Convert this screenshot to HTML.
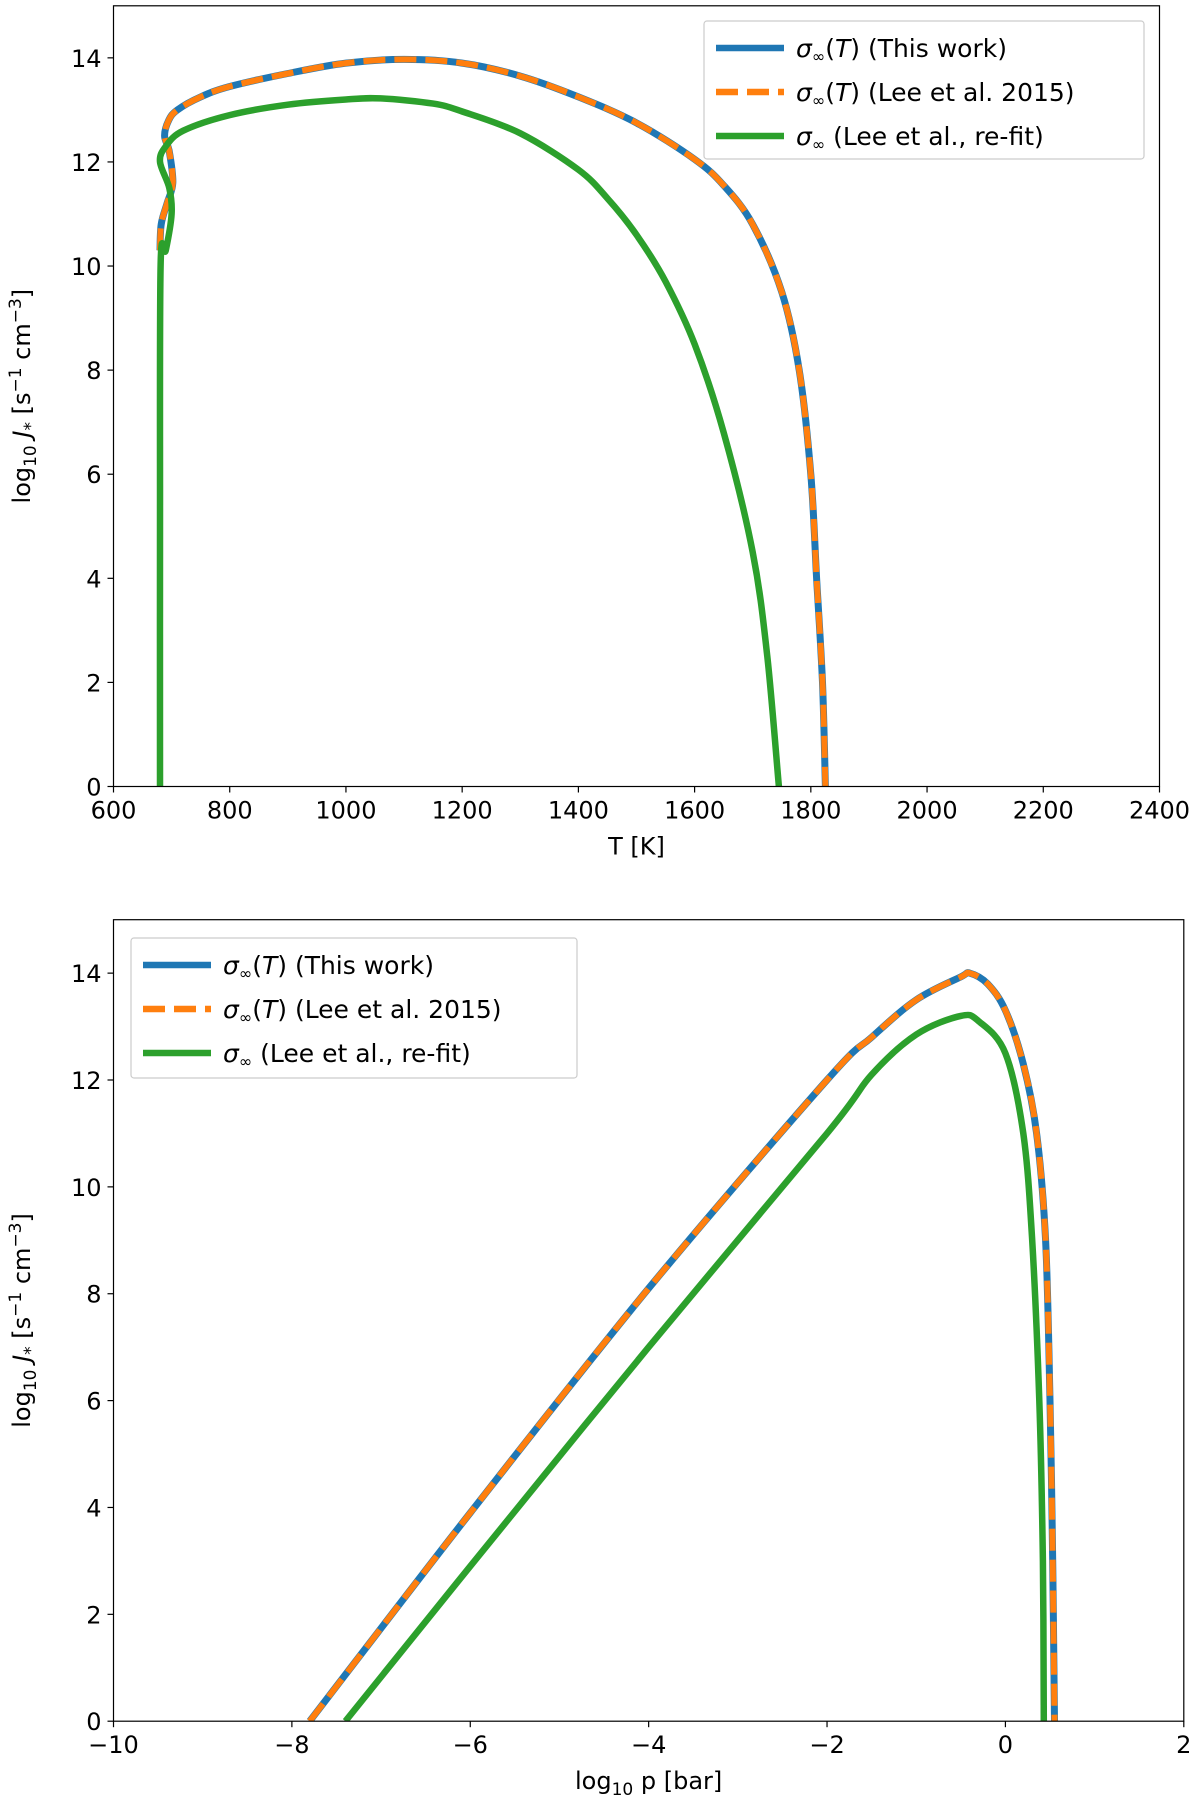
<!DOCTYPE html>
<html><head><meta charset="utf-8"><style>
body{margin:0;background:#fff;}
svg{display:block;font-family:"DejaVu Sans","Liberation Sans",sans-serif;}
</style></head><body>
<svg id="fig" width="1200" height="1816" viewBox="0 0 1200 1816"></svg>
<script>
// ---- data: top panel (T [K] vs log10 J) ----
const topBlueT = [680,682,692,702,696,688,695,710,750,800,900,1000,1100,1200,1300,1400,1500,1600,1650,1700,1750,1780,1800,1810,1820,1825];
const topBlueJ = [10.3,10.8,11.2,11.6,12.2,12.5,12.8,13.0,13.25,13.45,13.7,13.9,13.97,13.9,13.65,13.25,12.75,12.05,11.55,10.8,9.5,8.0,6.0,4.0,2.0,0];
const topGreenT = [680,680,681,690,700,696,680,690,720,800,900,1000,1060,1150,1200,1300,1400,1450,1500,1550,1600,1650,1700,1725,1745];
const topGreenJ = [0,5.0,10.0,10.3,11.0,11.5,12.0,12.3,12.6,12.9,13.1,13.2,13.22,13.12,12.97,12.55,11.85,11.3,10.6,9.7,8.5,6.8,4.5,2.5,0];
// ---- data: bottom panel (log10 p vs log10 J) ----
const botBlueP = [-7.8,-6,-4,-2,-1.5,-1,-0.5,-0.4,-0.2,0,0.2,0.35,0.45,0.5,0.53,0.55];
const botBlueJ = [0,3.9,8.1,12.0,12.8,13.5,13.93,14.0,13.8,13.3,12.3,11.0,9.0,6.0,3.0,0];
const botGreenP = [-7.4,-6,-4,-2,-1.5,-1,-0.5,-0.3,0,0.2,0.3,0.38,0.42,0.43];
const botGreenJ = [0,2.9,7.0,11.0,12.1,12.85,13.2,13.1,12.5,11.0,9.0,6.0,3.0,0];
const topXTicks = [600,800,1000,1200,1400,1600,1800,2000,2200,2400];
const botXTicks = [-10,-8,-6,-4,-2,0,2];
const yTicks = [0,2,4,6,8,10,12,14];
const legendLabels = ["(This work)","(Lee et al. 2015)","(Lee et al., re-fit)"];

const NS="http://www.w3.org/2000/svg";
const svg=document.getElementById('fig');
function mk(tag,attrs,parent){const e=document.createElementNS(NS,tag);for(const k in attrs)e.setAttribute(k,attrs[k]);(parent||svg).appendChild(e);return e;}

function smooth(pts){
  let d='M'+pts[0][0].toFixed(1)+','+pts[0][1].toFixed(1);
  for(let i=0;i<pts.length-1;i++){
    const p0=pts[Math.max(0,i-1)],p1=pts[i],p2=pts[i+1],p3=pts[Math.min(pts.length-1,i+2)];
    const c1=[p1[0]+(p2[0]-p0[0])/6,p1[1]+(p2[1]-p0[1])/6];
    const c2=[p2[0]-(p3[0]-p1[0])/6,p2[1]-(p3[1]-p1[1])/6];
    d+='C'+c1[0].toFixed(1)+','+c1[1].toFixed(1)+' '+c2[0].toFixed(1)+','+c2[1].toFixed(1)+' '+p2[0].toFixed(1)+','+p2[1].toFixed(1);
  }
  return d;
}

function panel(cfg){
  const {L,R,T,B,xmin,xmax,ymin,ymax,xticks,xlabel,name}=cfg;
  const g=mk('g',{});
  
  
  const sx=v=>L+(v-xmin)/(xmax-xmin)*(R-L);
  const sy=v=>B-(v-ymin)/(ymax-ymin)*(B-T);
  const clipId=name+'-clip';
  const cp=mk('clipPath',{id:clipId},g);mk('rect',{x:L,y:T,width:R-L,height:B-T},cp);
  const lines=mk('g',{'clip-path':'url(#'+clipId+')'},g);
  function path(xs,ys,attrs,dn){
    const pts=xs.map((x,i)=>[sx(x),sy(ys[i])]);
    const p=mk('path',Object.assign({d:smooth(pts),fill:'none','stroke-linejoin':'round'},attrs),lines);
    
    
  }
  path(cfg.bx,cfg.by,{stroke:'#1f77b4','stroke-width':7},'series-this-work');
  path(cfg.bx,cfg.by,{stroke:'#ff7f0e','stroke-width':6,'stroke-dasharray':'22,9'},'series-lee-2015');
  path(cfg.gx,cfg.gy,{stroke:'#2ca02c','stroke-width':6.5},'series-lee-refit');
  const fr=mk('rect',{x:L,y:T,width:R-L,height:B-T,fill:'none',stroke:'#000','stroke-width':1.2},g);
  
  
  xticks.forEach(v=>{
    const x=sx(v);mk('line',{x1:x,x2:x,y1:B,y2:B+6,stroke:'#000','stroke-width':1.2},g);
    const t=mk('text',{x:x,y:B+32,'text-anchor':'middle','font-size':24},g);
    t.textContent=(v<0?'\u2212'+(-v):''+v);
    
    
  });
  yTicks.forEach(v=>{
    const y=sy(v);mk('line',{x1:L-6,x2:L,y1:y,y2:y,stroke:'#000','stroke-width':1.2},g);
    const t=mk('text',{x:L-12,y:y+9,'text-anchor':'end','font-size':24},g);
    t.textContent=v;
    
    
  });
  const xl=mk('text',{x:(L+R)/2,y:B+68,'text-anchor':'middle','font-size':24},g);
  xl.innerHTML=xlabel;
  
  
  const cy=(T+B)/2;
  const yl=mk('text',{x:0,y:0,'text-anchor':'middle','font-size':24,transform:'translate(30,'+cy+') rotate(-90)'},g);
  yl.innerHTML='log<tspan font-size="17" dy="6">10</tspan><tspan dy="-6"> </tspan><tspan font-style="italic">J</tspan><tspan font-size="17" dy="6">*</tspan><tspan dy="-6"> [s</tspan><tspan font-size="17" dy="-9">\u22121</tspan><tspan dy="9"> cm</tspan><tspan font-size="17" dy="-9">\u22123</tspan><tspan dy="9">]</tspan>';
  
  
  const lg=mk('g',{},g);
  
  
  const [lx,ly,lw,lh]=cfg.leg;
  mk('rect',{x:lx,y:ly,width:lw,height:lh,fill:'#fff','fill-opacity':0.8,stroke:'#ccc','stroke-width':1.2,rx:3},lg);
  const cols=['#1f77b4','#ff7f0e','#2ca02c'];
  for(let i=0;i<3;i++){
    const y=ly+27+i*44;
    const e=mk('g',{},lg);
    
    
    mk('line',{x1:lx+12,x2:lx+80,y1:y,y2:y,stroke:cols[i],'stroke-width':6.5,'stroke-dasharray':i==1?'22,9':'none'},e);
    const t=mk('text',{x:lx+92,y:y+9,'font-size':25},e);
    t.innerHTML='<tspan font-style="italic">\u03c3</tspan><tspan font-size="16" dy="5">\u221e</tspan><tspan dy="-5">'+(i<2?'(<tspan font-style="italic">T</tspan>) ':' ')+'</tspan>'+legendLabels[i];
  }
}
panel({name:'top-panel',L:113.5,R:1159.5,T:5.8,B:786.5,xmin:600,xmax:2400,ymin:0,ymax:15,xticks:topXTicks,xlabel:'T [K]',
  bx:topBlueT,by:topBlueJ,gx:topGreenT,gy:topGreenJ,leg:[704,21,440,138]});
panel({name:'bottom-panel',L:113.5,R:1183.8,T:919.7,B:1721.2,xmin:-10,xmax:2,ymin:0,ymax:15,xticks:botXTicks,xlabel:'log<tspan font-size="17" dy="6">10</tspan><tspan dy="-6"> p [bar]</tspan>',
  bx:botBlueP,by:botBlueJ,gx:botGreenP,gy:botGreenJ,leg:[131,938,446,140]});
</script>
</body></html>
